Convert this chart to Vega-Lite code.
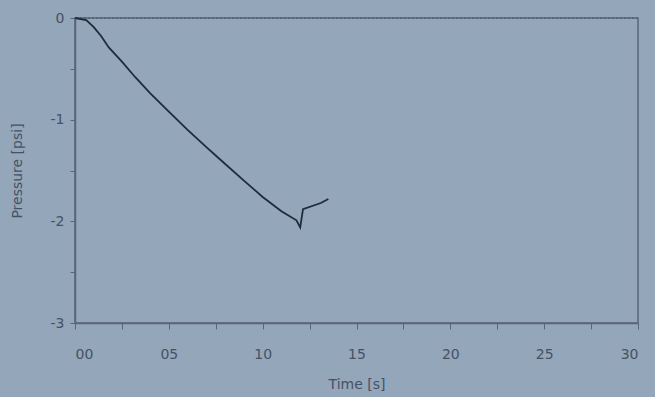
{
  "$schema": "https://vega.github.io/schema/vega-lite/v6.json",
  "width": 563,
  "height": 305,
  "autosize": {"type": "none"},
  "padding": {"left": 75, "top": 18, "right": 17, "bottom": 74},
  "background": "#93a6ba",
  "config": {
    "view": {"stroke": "#5a6678", "strokeWidth": 1.5},
    "font": "DejaVu Sans",
    "axis": {
      "domainColor": "#5a6678",
      "domainWidth": 1.5,
      "tickColor": "#5a6678",
      "labelColor": "#465264",
      "titleColor": "#465264",
      "labelFontSize": 14,
      "titleFontSize": 14,
      "titleFontWeight": "normal",
      "grid": false
    }
  },
  "data": {
    "values": [
      {"t": 0.0, "p": 0.0},
      {"t": 0.6, "p": -0.02},
      {"t": 1.0, "p": -0.09},
      {"t": 1.4, "p": -0.18},
      {"t": 1.8, "p": -0.29},
      {"t": 2.5, "p": -0.43},
      {"t": 3.2, "p": -0.58},
      {"t": 4.0, "p": -0.74},
      {"t": 5.0, "p": -0.92},
      {"t": 6.0, "p": -1.10},
      {"t": 7.0, "p": -1.27},
      {"t": 7.6, "p": -1.37},
      {"t": 9.0, "p": -1.60},
      {"t": 10.0, "p": -1.76},
      {"t": 11.0, "p": -1.90},
      {"t": 11.8, "p": -1.99},
      {"t": 12.0, "p": -2.06},
      {"t": 12.15, "p": -1.88},
      {"t": 13.1, "p": -1.82},
      {"t": 13.5, "p": -1.78}
    ]
  },
  "layer": [
    {
      "mark": {"type": "rule", "strokeDash": [2, 2], "color": "#5a6678", "strokeWidth": 2},
      "encoding": {"y": {"datum": 0, "type": "quantitative"}}
    },
    {
      "mark": {"type": "line", "color": "#1f2b3c", "strokeWidth": 1.8},
      "encoding": {
        "x": {
          "field": "t",
          "type": "quantitative",
          "scale": {"domain": [0, 30], "nice": false},
          "axis": {
            "title": "Time [s]",
            "values": [0, 2.5, 5, 7.5, 10, 12.5, 15, 17.5, 20, 22.5, 25, 27.5, 30],
            "labelExpr": "datum.value % 5 != 0 ? '' : (datum.value < 10 ? '0' + datum.value : '' + datum.value)",
            "tickSize": 6,
            "labelPadding": 18,
            "titlePadding": 16
          }
        },
        "y": {
          "field": "p",
          "type": "quantitative",
          "scale": {"domain": [-3, 0], "nice": false},
          "axis": {
            "title": "Pressure [psi]",
            "values": [0, -0.5, -1, -1.5, -2, -2.5, -3],
            "labelExpr": "datum.value % 1 != 0 ? '' : '' + datum.value",
            "tickSize": 5,
            "labelPadding": 6,
            "titlePadding": 26
          }
        }
      }
    }
  ]
}
